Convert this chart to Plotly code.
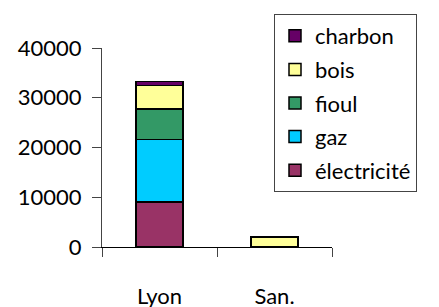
import plotly.graph_objects as go

categories = ["Lyon", "San."]
electricite = [9050, 0]
gaz = [12550, 0]
fioul = [6150, 0]
bois = [4700, 2000]
charbon = [850, 0]

series = [
    ("électricité", electricite, "#993366"),
    ("gaz", gaz, "#00CCFF"),
    ("fioul", fioul, "#339966"),
    ("bois", bois, "#FFFF99"),
    ("charbon", charbon, "#660066"),
]

FONT = "Lato"
fig = go.Figure()
n = len(series)
for i, (name, vals, col) in enumerate(series):
    fig.add_trace(go.Bar(
        x=categories, y=vals, name=name, legendgroup=name, legendrank=n - i,
        marker=dict(color=col, line=dict(color="black", width=1.5)),
        width=0.41,
    ))

W, H = 431, 299
fig.update_layout(
    barmode="stack",
    width=W, height=H,
    margin=dict(l=94, r=107, t=40, b=60, autoexpand=False),
    paper_bgcolor="white", plot_bgcolor="white",
    font=dict(family=FONT, size=22, color="black"),
    showlegend=True,
    legend=dict(
        traceorder="grouped", tracegroupgap=2,
        xref="container", yref="container",
        x=266 / W, y=1 - 6 / H, xanchor="left", yanchor="top",
        bordercolor="#444", borderwidth=1, bgcolor="white",
        font=dict(family=FONT, size=22),
        itemwidth=30, maxheight=1.0,
        entrywidth=160, entrywidthmode="pixels",
    ),
    xaxis=dict(
        showline=True, linecolor="black", linewidth=1.2,
        tickson="boundaries", ticks="outside", ticklen=9, tickcolor="#444",
        ticklabelstandoff=29, showgrid=False,
    ),
    yaxis=dict(
        range=[0, 40000], tickvals=[0, 10000, 20000, 30000, 40000],
        showline=True, linecolor="#444", linewidth=1.2,
        ticks="outside", ticklen=9, tickcolor="#444", ticklabelstandoff=6,
        showgrid=False, zeroline=False, tickformat="d",
    ),
)
fig.write_html("out.html")
